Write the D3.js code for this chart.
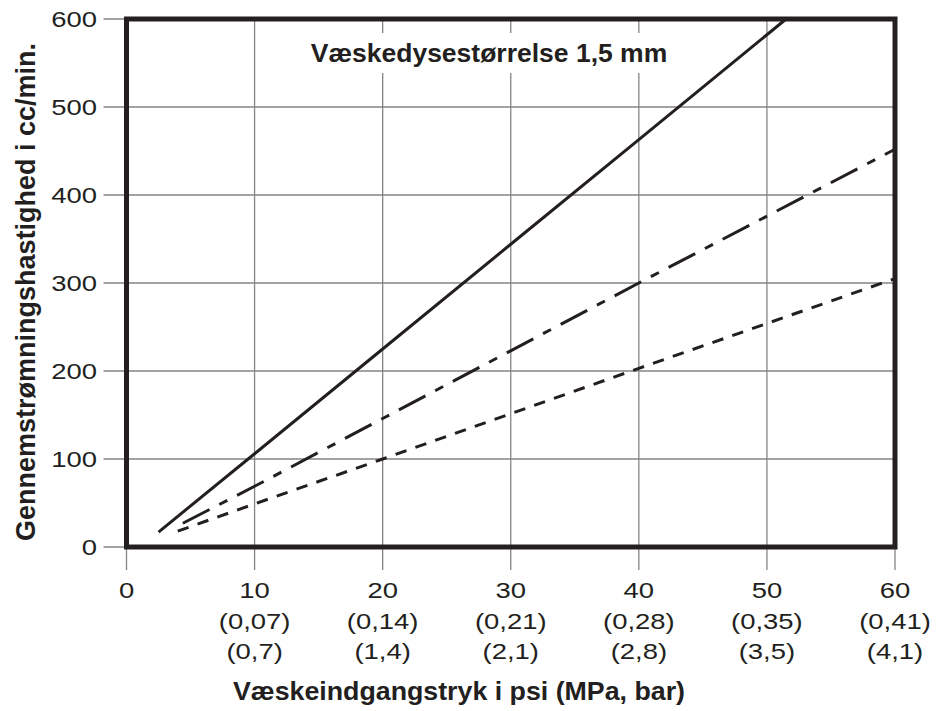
<!DOCTYPE html>
<html><head><meta charset="utf-8">
<script src="https://cdn.jsdelivr.net/npm/d3@7"></script>
<style>body{margin:0;background:#fff}svg{display:block}text{font-family:"Liberation Sans",Arial,Helvetica,sans-serif;fill:#231f20}</style>
</head><body><svg id="c" width="941" height="711"></svg>
<script>
const xTicks = [0,10,20,30,40,50,60];
const mpaLabels = ["","(0,07)","(0,14)","(0,21)","(0,28)","(0,35)","(0,41)"];
const barLabels = ["","(0,7)","(1,4)","(2,1)","(2,8)","(3,5)","(4,1)"];
const yTicks = [0,100,200,300,400,500,600];
const solidPsi = [2.5,10,20,30,40,51.5];
const solidFlow = [17,106,225,344,463,600];
const dashDotPsi = [4.4,10,20,40,60];
const dashDotFlow = [27,69,146,300,452];
const dashedPsi = [4,10,20,40,60];
const dashedFlow = [18,49,100,203,305];
const titleText = "Væskedysestørrelse 1,5 mm";
const xTitle = "Væskeindgangstryk i psi (MPa, bar)";
const yTitle = "Gennemstrømningshastighed i cc/min.";

const svg = d3.select("#c");
const L=126.5,R=895,T=19,B=547;
const x = d3.scaleLinear().domain([0,60]).range([L,R]);
const y = d3.scaleLinear().domain([0,600]).range([B,T]);
const ink="#231f20", grid="#858585";

// gridlines
const g = svg.append("g");
g.selectAll(".vg").data(xTicks).join("line")
  .attr("x1",d=>x(d)).attr("x2",d=>x(d)).attr("y1",T).attr("y2",B+23)
  .attr("stroke",grid).attr("stroke-width",1.3);
g.selectAll(".hg").data(yTicks).join("line")
  .attr("x1",L-23).attr("x2",R).attr("y1",d=>y(d)).attr("y2",d=>y(d))
  .attr("stroke",grid).attr("stroke-width",1.3);

// title box
svg.append("rect").attr("x",300).attr("y",33).attr("width",390).attr("height",40).attr("fill","#fff");
svg.append("text").attr("transform",`translate(489,62)`)
  .attr("text-anchor","middle").attr("font-weight","bold").attr("font-size",26.5).text(titleText);

// lines
const line = d3.line().x(d=>x(d[0])).y(d=>y(d[1]));
const series = [
  {p:solidPsi,f:solidFlow,dash:null},
  {p:dashDotPsi,f:dashDotFlow,dash:"30,11,9,11"},
  {p:dashedPsi,f:dashedFlow,dash:"11.5,9.5"}
];
series.forEach(s=>{
  svg.append("path").datum(s.p.map((v,i)=>[v,s.f[i]]))
    .attr("d",line).attr("fill","none").attr("stroke",ink).attr("stroke-width",3)
    .attr("stroke-dasharray",s.dash);
});

// border
svg.append("rect").attr("x",L).attr("y",T).attr("width",R-L).attr("height",B-T)
  .attr("fill","none").attr("stroke",ink).attr("stroke-width",5);

// y tick labels
const sx=1.22;
svg.selectAll(".yl").data(yTicks).join("text")
  .attr("transform",d=>`translate(97,${y(d)+8}) scale(${sx},1)`)
  .attr("text-anchor","end").attr("font-size",22.5).text(d=>d);
// x tick labels
[xTicks.map(String),mpaLabels,barLabels].forEach((row,ri)=>{
  svg.selectAll(".xl"+ri).data(row).join("text")
    .attr("transform",(d,i)=>`translate(${x(xTicks[i])},${598+ri*30.5}) scale(${sx},1)`)
    .attr("text-anchor","middle").attr("font-size",22.5).text(d=>d);
});

// axis titles
svg.append("text").attr("transform",`translate(459,700) scale(1.05,1)`)
  .attr("text-anchor","middle").attr("font-weight","bold").attr("font-size",25.5).text(xTitle);
svg.append("text").attr("transform",`translate(35,292) rotate(-90) scale(1.0,1)`)
  .attr("text-anchor","middle").attr("font-weight","bold").attr("font-size",27).text(yTitle);
</script></body></html>
